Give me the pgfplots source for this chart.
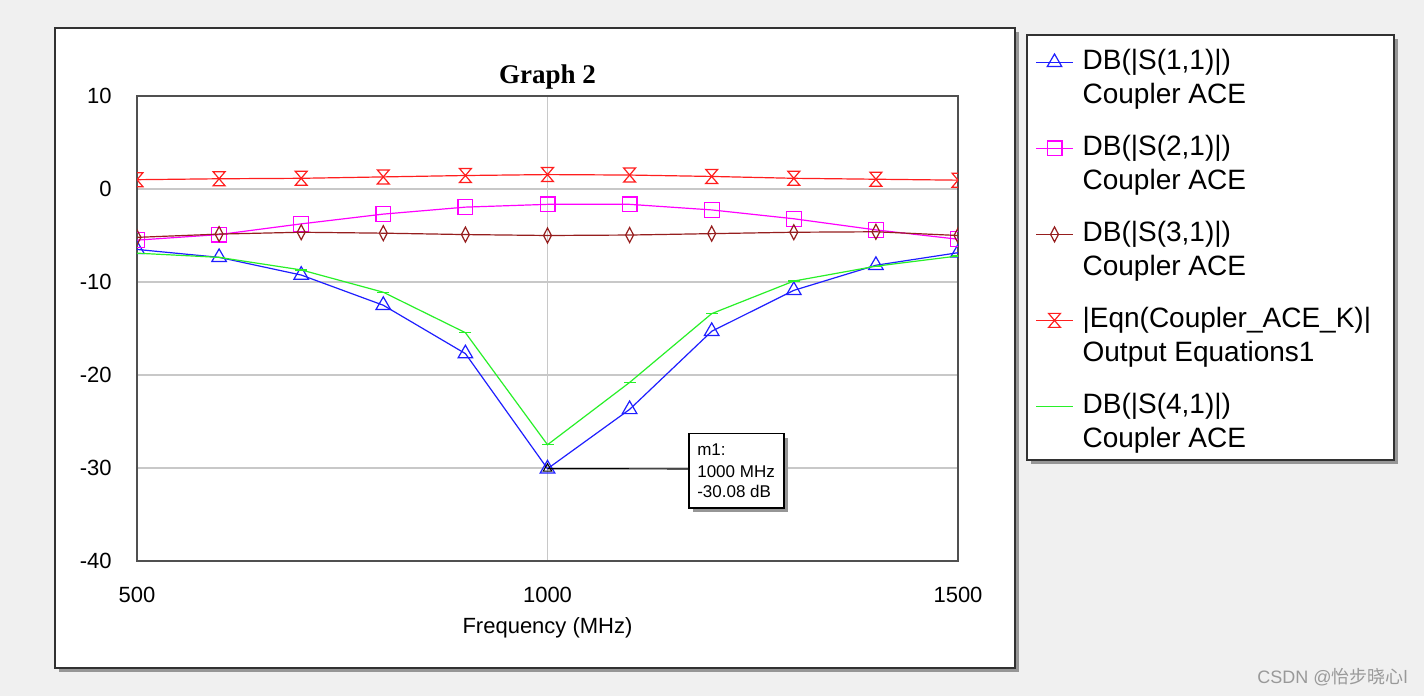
\documentclass[border=0pt]{standalone}
\usepackage{pgfplots}
\pgfplotsset{compat=1.18}
\usepackage{fontspec}
\setmainfont{Liberation Sans}
\newfontfamily\serifb{Liberation Serif}
\newfontfamily\cjk{Noto Sans CJK SC}
\definecolor{bgc}{RGB}{240,240,240}
\definecolor{shadowc}{RGB}{150,150,150}
\definecolor{framec}{RGB}{50,50,50}
\definecolor{axisc}{RGB}{80,80,80}
\definecolor{gridc}{RGB}{200,200,200}
\definecolor{cblue}{RGB}{30,30,255}
\definecolor{cmag}{RGB}{255,0,255}
\definecolor{cbrown}{RGB}{150,30,30}
\definecolor{cred}{RGB}{255,30,30}
\definecolor{cgreen}{RGB}{40,240,40}
\pgfdeclareplotmark{hourglass}{%
  \pgfpathmoveto{\pgfqpoint{-0.85\pgfplotmarksize}{\pgfplotmarksize}}%
  \pgfpathlineto{\pgfqpoint{0.85\pgfplotmarksize}{\pgfplotmarksize}}%
  \pgfpathlineto{\pgfqpoint{-0.85\pgfplotmarksize}{-\pgfplotmarksize}}%
  \pgfpathlineto{\pgfqpoint{0.85\pgfplotmarksize}{-\pgfplotmarksize}}%
  \pgfpathclose
  \pgfusepathqstroke}
\begin{document}
\begin{tikzpicture}
\fill[bgc] (0,0) rectangle (712pt,348pt);
\useasboundingbox (0,0) rectangle (712pt,348pt);
% main panel
\fill[shadowc] (29.5pt,12pt) rectangle (509.5pt,332pt);
\filldraw[fill=white, draw=framec, line width=1pt] (27.5pt,14pt) rectangle (507.5pt,334pt);
% legend panel
\fill[shadowc] (515.5pt,116pt) rectangle (699pt,328.5pt);
\filldraw[fill=white, draw=framec, line width=1pt] (513.5pt,118pt) rectangle (697pt,330.5pt);
\begin{axis}[
  at={(68.5pt,67.5pt)}, anchor=south west,
  scale only axis, width=410.5pt, height=232.5pt,
  xmin=500, xmax=1500, ymin=-40, ymax=10,
  xtick={500,1000,1500}, ytick={-40,-30,...,10},
  major tick length=0pt,
  grid=major, major grid style={draw=gridc, line width=0.8pt},
  axis line style={draw=axisc, line width=1pt},
  tick label style={font=\fontsize{11}{13}\selectfont},
  /pgf/number format/assume math mode=true,
  /pgf/number format/set thousands separator={},
  yticklabel style={inner sep=0pt, xshift=-12.5pt},
  xticklabel style={inner sep=0pt, yshift=-13pt},
  title={Graph 2},
  title style={at={(axis description cs:0.5,1.034)}, anchor=base, yshift=-7.5pt, font=\serifb\bfseries\fontsize{13.5}{16}\selectfont},
  xlabel={Frequency (MHz)},
  xlabel style={at={(axis description cs:0.5,-0.155)}, anchor=base, font=\fontsize{11}{13}\selectfont},
  clip marker paths=true,
  legend image code/.code={\draw[mark repeat=2,mark phase=2] plot coordinates {(0pt,0pt)(9.25pt,0pt)(18.5pt,0pt)};},
  legend cell align=left,
  legend style={draw=none, fill=none, at={(axis description cs:1.0938,1.1097)}, anchor=north west,
    inner sep=0pt, row sep=0pt, column sep=4.5pt, font=\fontsize{14}{17}\selectfont,
    nodes={inner sep=0pt, text height=12pt, text depth=5pt}},
]
\addplot[cblue, line width=0.6pt, mark=triangle, mark size=4.2pt] coordinates {
(500,-6.5) (600,-7.35) (700,-9.25) (800,-12.5) (900,-17.7) (1000,-30.08)
(1100,-23.7) (1200,-15.3) (1300,-10.9) (1400,-8.2) (1500,-6.85)};
\addlegendentry{DB(|S(1,1)|)}
\addlegendimage{empty legend}
\addlegendentry[text depth=14pt]{Coupler ACE}

\addplot[cmag, line width=0.6pt, mark=square, mark size=3.7pt] coordinates {
(500,-5.5) (600,-4.9) (700,-3.75) (800,-2.7) (900,-1.95) (1000,-1.65)
(1100,-1.65) (1200,-2.25) (1300,-3.2) (1400,-4.4) (1500,-5.4)};
\addlegendentry{DB(|S(2,1)|)}
\addlegendimage{empty legend}
\addlegendentry[text depth=14pt]{Coupler ACE}

\addplot[cbrown, line width=0.6pt, mark=diamond, mark size=3.75pt, mark options={xscale=0.7}] coordinates {
(500,-5.2) (600,-4.85) (700,-4.65) (800,-4.75) (900,-4.9) (1000,-5.0)
(1100,-4.95) (1200,-4.8) (1300,-4.65) (1400,-4.6) (1500,-5.0)};
\addlegendentry{DB(|S(3,1)|)}
\addlegendimage{empty legend}
\addlegendentry[text depth=14pt]{Coupler ACE}

\addplot[cred, line width=0.6pt, mark=hourglass, mark size=3.5pt] coordinates {
(500,1.0) (600,1.1) (700,1.15) (800,1.3) (900,1.45) (1000,1.55)
(1100,1.5) (1200,1.35) (1300,1.15) (1400,1.05) (1500,0.95)};
\addlegendentry{|Eqn(Coupler\_ACE\_K)|}
\addlegendimage{empty legend}
\addlegendentry[text depth=14pt]{Output Equations1}

\addplot[cgreen, line width=0.6pt, mark=-, mark size=3pt, forget plot] coordinates {
(500,-6.9) (600,-7.35) (700,-8.7) (800,-11.1) (900,-15.45) (1000,-27.5)
(1100,-20.8) (1200,-13.4) (1300,-9.9) (1400,-8.3) (1500,-7.2)};
\addlegendimage{color=cgreen, line width=0.6pt, no markers}
\addlegendentry{DB(|S(4,1)|)}
\addlegendimage{empty legend}
\addlegendentry[text depth=14pt]{Coupler ACE}

\addplot[black, only marks, mark=triangle, mark size=2.5pt, line width=0.5pt, forget plot] coordinates {(1000,-30.08)};
% marker annotation
\draw[black, line width=0.6pt] (axis cs:1000,-30.08) -- (axis cs:1173,-30.1);
\fill[shadowc] (axis cs:1177,-26.75) rectangle (axis cs:1293,-34.75);
\filldraw[fill=white, draw=black, line width=0.8pt] (axis cs:1172.4,-26.3) rectangle (axis cs:1288,-34.3);
\node[anchor=base west, inner sep=0pt, font=\fontsize{8.5}{10}\selectfont] at (axis cs:1182,-28.68) {m1:};
\node[anchor=base west, inner sep=0pt, font=\fontsize{8.5}{10}\selectfont] at (axis cs:1182,-30.97) {1000 MHz};
\node[anchor=base west, inner sep=0pt, font=\fontsize{8.5}{10}\selectfont] at (axis cs:1182,-33.12) {-30.08 dB};
\end{axis}
\node[anchor=base east, inner sep=0pt, text=black!40, font=\fontsize{9}{10}\selectfont] at (704pt,6pt) {CSDN @{\cjk 怡步晓心}l};
\end{tikzpicture}
\end{document}
